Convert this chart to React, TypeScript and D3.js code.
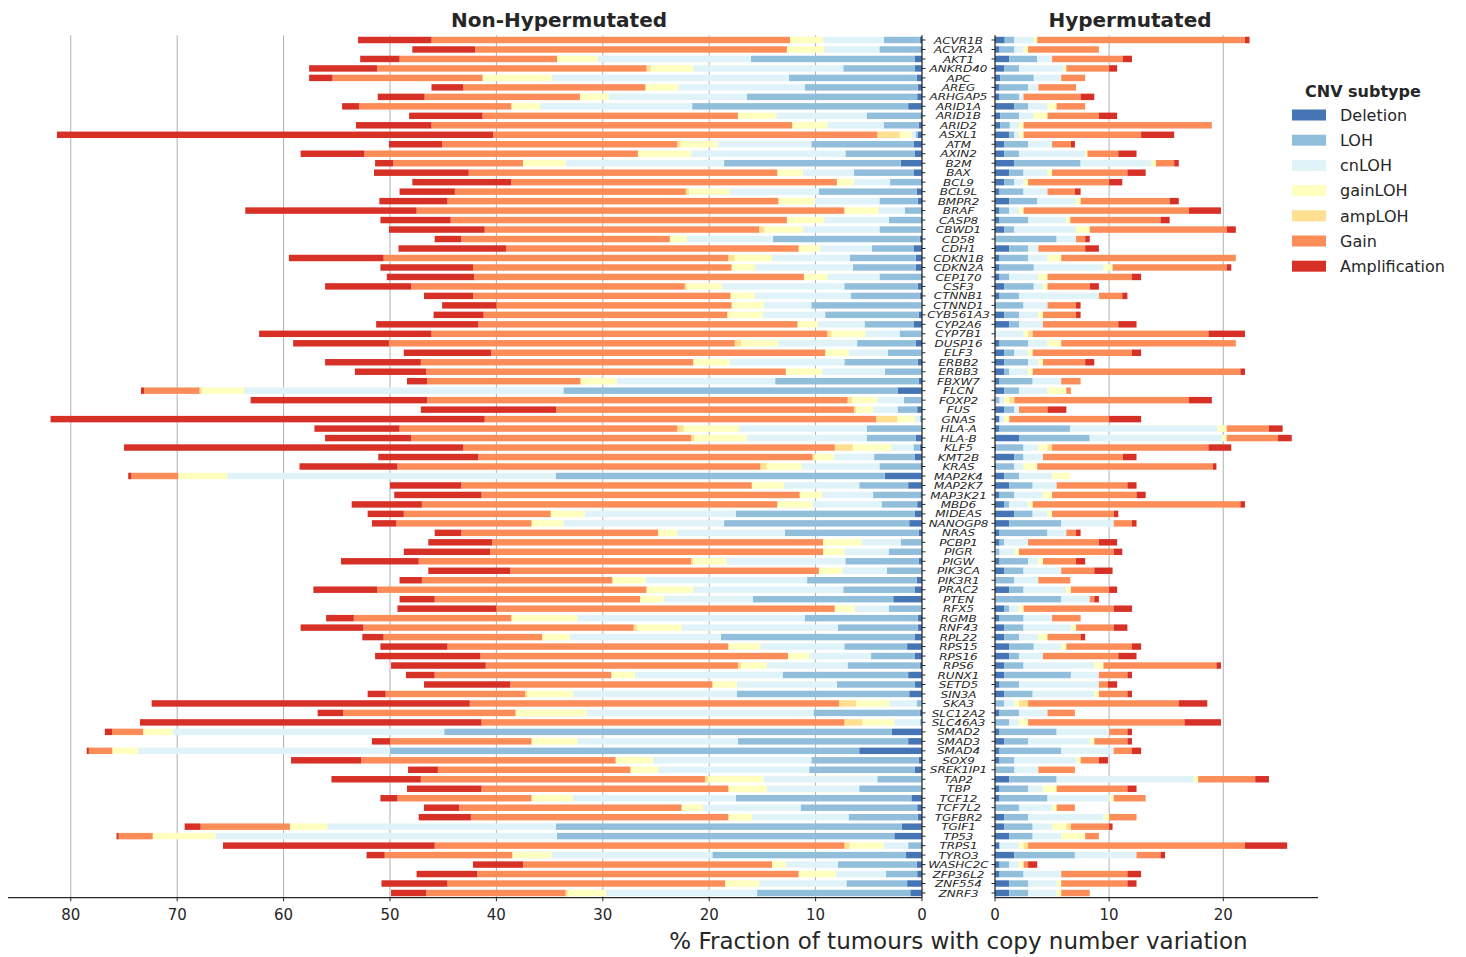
import React from "react";
import * as d3 from "d3";

const genes = ["ACVR1B","ACVR2A","AKT1","ANKRD40","APC","AREG","ARHGAP5","ARID1A","ARID1B","ARID2","ASXL1","ATM","AXIN2","B2M","BAX","BCL9","BCL9L","BMPR2","BRAF","CASP8","CBWD1","CD58","CDH1","CDKN1B","CDKN2A","CEP170","CSF3","CTNNB1","CTNND1","CYB561A3","CYP2A6","CYP7B1","DUSP16","ELF3","ERBB2","ERBB3","FBXW7","FLCN","FOXP2","FUS","GNAS","HLA-A","HLA-B","KLF5","KMT2B","KRAS","MAP2K4","MAP2K7","MAP3K21","MBD6","MIDEAS","NANOGP8","NRAS","PCBP1","PIGR","PIGW","PIK3CA","PIK3R1","PRAC2","PTEN","RFX5","RGMB","RNF43","RPL22","RPS15","RPS16","RPS6","RUNX1","SETD5","SIN3A","SKA3","SLC12A2","SLC46A3","SMAD2","SMAD3","SMAD4","SOX9","SREK1IP1","TAP2","TBP","TCF12","TCF7L2","TGFBR2","TGIF1","TP53","TRPS1","TYRO3","WASHC2C","ZFP36L2","ZNF554","ZNRF3"];

const subtypes = ["Deletion","LOH","cnLOH","gainLOH","ampLOH","Gain","Amplification"];
const colors = ["#4575b4","#91bfdb","#e0f3f8","#ffffbf","#fee090","#fc8d59","#d73027"];

// Non-Hypermutated
const nhDeletion = [0.2,0.15,0.7,0.7,0.5,0.4,0.45,1.3,0.15,0.3,0.4,0.8,0.7,2.0,0.8,0.1,0.5,0.4,0.1,0.1,0.05,0.2,0.8,0.6,0.6,0.1,0.4,0.2,0,0.3,0.8,0,0.6,0,0.4,0.05,0.3,2.3,0,0.45,0,0,0.6,0.2,0.7,0.15,3.5,1.3,0.15,0.45,0.7,1.2,0.3,0,0,0.3,0,0.5,0.7,2.7,0,0.4,0.4,0.7,1.4,0.7,0.2,1.3,0.7,1.2,0,0.2,0,2.85,1.3,5.9,0.3,0.7,0,0,1.0,0.45,0.4,1.9,2.6,0.15,1.5,0.5,0.45,1.4,1.1];
const nhLOH = [3.4,3.85,15.4,6.7,12.0,10.6,16.0,20.3,5.05,3.3,0.2,9.6,6.5,16.6,5.6,2.9,9.2,3.6,1.5,3.0,3.95,13.8,3.9,6.2,5.9,3.9,6.9,6.5,10.4,8.8,4.6,2.1,5.5,3.2,6.9,3.45,13.5,31.4,1.7,1.85,0.2,5.2,4.6,0.6,3.8,3.85,30.9,4.6,4.45,3.35,16.8,17.4,12.6,2.0,3.1,6.9,3.3,10.3,6.7,13.2,3.1,10.6,7.5,18.2,5.9,4.1,6.8,11.8,7.3,16.2,0.5,10.0,0.2,42.05,16.0,44.1,10.1,9.9,4.2,5.9,16.5,10.95,6.5,32.5,31.7,1.15,18.2,7.4,2.95,5.7,14.4];
const nhCnLOH = [5.7,5.2,14.4,14.1,22.3,11.9,13.0,14.3,8.5,5.3,0.4,8.8,14.5,14.9,4.8,3.4,8.4,6.1,2.5,6.1,7.2,8.1,4.9,7.3,9.2,4.9,11.5,9.0,4.5,5.9,4.4,3.2,7.4,3.7,10.8,5.9,14.9,30.0,2.5,2.3,0.5,12.0,11.3,2.1,3.8,7.3,30.9,7.1,4.8,6.5,14.2,15.1,10.1,3.7,4.2,11.2,4.2,15.2,14.1,8.4,3.2,21.4,14.7,14.2,7.9,5.8,7.6,13.9,9.4,15.4,2.6,21.3,2.4,25.5,15.1,23.7,14.9,14.2,10.7,8.7,15.3,9.2,9.1,21.5,32.1,2.3,15.1,4.9,4.7,8.2,14.2];
const nhGainLOH = [3.1,3.5,3.8,4.0,6.5,3.1,2.7,2.7,3.6,3.3,1.1,3.5,5.0,4.0,2.4,1.6,3.8,3.4,3.2,3.5,3.6,1.6,2.0,3.5,2.2,2.2,3.3,2.3,3.0,3.3,1.9,3.2,3.5,2.2,3.4,3.4,3.4,4.0,2.4,1.6,1.6,5.2,4.9,3.6,1.8,3.3,4.6,3.0,2.1,3.3,3.2,3.0,1.8,3.6,2.0,3.1,2.2,3.1,4.4,2.2,1.9,6.2,4.2,2.6,3.0,2.0,2.4,2.2,2.3,4.3,3.1,6.7,3.0,2.8,4.3,2.4,3.5,2.6,5.2,3.6,3.9,2.0,2.2,3.5,5.9,3.2,3.7,1.3,3.5,3.2,3.6];
const nhAmpLOH = [0,0,0,0.4,0,0,0,0,0,0,2.1,0.3,0,0,0,0,0.3,0,0,0,0.5,0,0,0.6,0,0,0.2,0,0,0,0,0.4,0.6,0,0,0,0,0.2,0.4,0.2,2.0,0.6,0.3,1.7,0.2,0.6,0,0,0,0,0,0,0,0,0,0.2,0,0,0,0,0,0,0.3,0,0,0,0.3,0,0,0.2,1.6,0,1.7,0,0,0,0,0,0.3,0,0,0,0,0,0,0.5,0,0,0,0,0.2];
const nhGain = [33.7,29.3,14.8,25.3,14.1,17.1,14.6,14.3,24.0,33.9,36.1,22.1,25.7,12.2,29.0,30.6,21.7,31.1,40.2,31.6,25.8,19.6,27.5,32.4,24.3,31.0,25.7,24.2,22.1,22.9,30.0,37.2,32.5,31.4,25.6,33.8,14.4,5.2,39.5,28.0,36.8,26.1,26.3,34.9,31.4,34.1,4.4,27.3,29.9,33.4,13.8,12.7,18.5,31.1,31.3,25.6,29.0,17.9,25.3,19.3,31.8,14.8,25.4,14.9,26.4,28.9,23.7,16.6,19.0,13.1,34.7,16.2,34.1,2.9,13.3,2.2,23.9,18.1,26.7,23.2,12.6,20.9,24.2,8.4,3.2,38.5,12.0,23.4,30.2,26.1,13.1];
const nhAmplification = [6.9,5.9,3.7,6.4,2.2,3.0,4.4,1.6,6.9,7.1,41.0,5.0,6.0,1.7,8.9,9.3,5.2,6.4,16.1,6.6,9.0,2.5,10.1,8.9,8.7,8.2,8.1,4.6,5.1,4.7,9.6,16.2,9.0,8.2,9.0,6.7,1.9,0.3,16.6,12.7,40.8,8.0,8.1,31.9,9.4,9.2,0.3,6.7,8.2,6.6,3.4,2.3,2.5,6.0,8.1,7.3,7.7,2.1,6.0,3.3,9.3,2.6,5.9,2.0,6.3,9.9,8.9,2.7,8.1,1.7,29.9,2.4,32.1,0.7,1.7,0.2,6.6,2.8,8.4,7.0,1.6,3.3,4.9,1.5,0.2,19.9,1.7,4.7,5.7,6.2,3.3];

// Hypermutated
const hDeletion = [0.85,0.4,1.25,0.8,0.45,0.4,0.4,1.7,0.45,0.45,1.25,0.8,0.8,1.7,1.25,0.8,0.4,1.25,0.4,0.4,0.8,0,1.25,0.4,0.4,0.4,0.8,0.4,0.1,0.8,1.25,0,0.4,0.8,0.8,0.8,0.4,0.8,0,0.8,0.4,0.4,2.1,0.1,1.7,0.1,0.8,1.25,0.4,0.8,1.7,1.25,0.4,0.4,0,0.4,0.8,0,1.25,0,0.8,0.4,0.8,0.8,1.25,1.25,0.8,0.8,0.4,0.8,0,0.4,0,0.4,0.8,0.4,0.4,0,1.25,0.4,0.4,0,0.8,0.8,1.25,0.4,1.7,0.4,0.4,1.25,1.25];
const hLOH = [0.85,1.3,2.45,1.3,2.95,2.5,1.7,1.2,1.65,0.85,0.45,2.1,1.3,5.8,1.25,0.9,2.1,2.45,0.85,2.5,0.9,5.4,1.65,2.5,3.0,0.85,2.6,1.7,2.4,1.3,0.85,0.1,2.5,0.9,2.1,0.45,2.9,1.3,0.4,0.9,0,6.2,6.2,2.4,0.8,1.6,1.3,2.05,1.3,0.45,1.6,4.55,4.2,0.4,0.4,2.5,1.7,1.7,1.25,5.8,0.45,2.1,1.7,1.3,2.15,0.85,1.7,5.85,1.7,2.5,0.8,1.7,1.25,5.0,2.1,5.4,1.3,1.7,4.15,2.5,4.2,2.1,2.1,2.5,2.05,0,5.3,0.85,2.1,1.65,1.65];
const hCnLOH = [1.7,0.8,1.3,3.9,2.4,0.9,0.4,1.7,1.3,0.8,0.4,2.1,5.8,6.2,2.1,0.8,2.1,3.4,0.85,3.35,5.4,1.7,0.9,1.7,6.1,2.55,0.8,7.0,2.1,1.7,2.1,2.4,1.7,1.2,0.9,1.65,2.5,2.5,0.4,0.4,0.4,12.9,11.6,1.3,1.7,0.8,2.9,2.1,2.5,1.65,1.3,4.6,1.65,2.1,1.3,0.9,3.3,2.1,3.75,2.5,0.85,2.5,4.15,1.7,2.4,2.1,6.2,2.45,7.0,5.4,0.9,2.5,0.85,4.6,5.4,4.6,5.4,2.1,12.0,1.3,5.4,2.9,6.6,1.7,2.5,1.7,5.4,0.85,3.3,2.5,2.5];
const hGainLOH = [0.3,0.4,0,0.25,0,0,0,0.8,1.2,0.4,0.4,0,0.2,0.4,0.4,0.4,0,0.4,0.4,0.35,1.2,0,0,1.2,0.8,0.8,0.4,0,0,0.4,0,0.4,1.2,0.4,0.4,0.4,0,1.65,0.45,0,0.45,0.8,0.4,0.8,0,1.2,1.6,0,0.8,0.4,0.4,0,0,0,0.4,0.4,0,0,0.4,0,0.4,0,0.45,0.8,0.45,0,0.8,0,0,0.4,0.4,0,0.8,0,0.4,0,0.4,0,0.4,1.2,0.4,0.4,0.5,1.25,2.1,0.4,0,0.4,0,0.4,0.4];
const hAmpLOH = [0,0,0,0,0,0,0,0,0,0,0,0,0,0,0,0,0,0,0,0,0,0,0,0,0,0,0,0,0,0,0,0.4,0,0,0,0,0,0,0.45,0,0,0,0,0.4,0,0,0,0,0,0,0,0,0,0,0,0,0,0,0,0,0,0,0,0,0,0,0,0,0,0,0.8,0,0,0,0,0,0,0,0,0,0,0,0,0.4,0,0.4,0,0,0,0,0];
const hGain = [18.2,6.2,6.2,3.75,2.1,3.3,5.0,2.5,4.5,16.5,10.3,1.65,2.7,1.6,6.6,7.1,2.4,7.8,14.5,7.9,12.0,0.8,4.1,15.3,10.0,7.4,3.7,2.05,2.5,2.9,6.6,15.4,15.3,8.7,3.7,18.2,1.7,0.4,15.3,2.5,8.75,3.7,4.5,13.7,7.0,15.4,0,6.2,7.4,18.2,5.4,1.6,0.85,6.2,8.3,2.9,2.9,2.8,3.35,0.4,7.9,2.5,3.3,2.9,5.75,6.6,9.9,2.5,0.8,2.5,13.2,2.4,13.7,1.6,2.9,1.6,1.6,3.2,5.0,6.2,2.8,1.6,2.4,3.35,1.2,19.0,2.1,0.4,5.8,5.8,2.5];
const hAmplification = [0.4,0,0.8,0.7,0,0,1.2,0,1.6,0,2.9,0.35,1.6,0.4,1.6,1.15,0.5,0.8,2.8,0.8,0.8,0.4,1.2,0,0.4,0.8,0.8,0.45,0.4,0.4,1.6,3.2,0,0.8,0.8,0.4,0,0,2.0,1.65,2.8,1.2,1.2,2.0,1.2,0.3,0,0.8,0.8,0.4,0.4,0.4,0.4,1.6,0.75,0.8,1.6,0,0.7,0.4,1.6,0,1.2,0.4,0.8,1.6,0.4,0.4,0.8,0.4,2.5,0,3.2,0.4,0.4,0.8,0.8,0,1.2,0.8,0,0,0,0.3,0,3.7,0.4,0.8,1.2,0.8,0];

const leftTicks = [0, 10, 20, 30, 40, 50, 60, 70, 80];
const rightTicks = [0, 10, 20];

const nhSeries = [nhDeletion, nhLOH, nhCnLOH, nhGainLOH, nhAmpLOH, nhGain, nhAmplification];
const hSeries = [hDeletion, hLOH, hCnLOH, hGainLOH, hAmpLOH, hGain, hAmplification];

function buildTable(series: number[][]) {
  return genes.map((g, i) => {
    const row: any = { gene: g };
    subtypes.forEach((s, k) => (row[s] = series[k][i]));
    return row;
  });
}

const FONT = "DejaVu Sans, Verdana, sans-serif";

export default function App() {
  const W = 1466, H = 957;
  const top = 35.26, bottom = 897.74;
  const y = d3.scaleBand<string>().domain(genes).range([top, bottom]).paddingInner(0.32).paddingOuter(0.16);
  const xL = d3.scaleLinear().domain([0, 85.9]).range([922, 8]);
  const xR = d3.scaleLinear().domain([0, 28.3]).range([995, 1318]);
  const stack = d3.stack<any>().keys(subtypes);
  const nhStack = stack(buildTable(nhSeries));
  const hStack = stack(buildTable(hSeries));
  const labelX = 958.5;

  const panel = (st: any[], x: d3.ScaleLinear<number, number>, ticks: number[], side: "L" | "R") => {
    const x0 = x(0);
    const xEnd = x.range()[1];
    return (
      <g>
        {ticks.filter(t => t !== 0).map(t => (
          <line key={"g" + t} x1={x(t)} x2={x(t)} y1={top} y2={bottom} stroke="#b0b0b0" strokeWidth={1} />
        ))}
        {st.map((layer: any, k: number) => (
          <g key={layer.key} fill={colors[k]}>
            {layer.map((d: any, i: number) => {
              const a = x(d[0]), b = x(d[1]);
              const w = Math.abs(b - a);
              if (w <= 0) return null;
              return <rect key={i} x={Math.min(a, b)} y={y(genes[i])} width={w} height={y.bandwidth()} />;
            })}
          </g>
        ))}
        <line x1={x0} x2={x0} y1={top} y2={bottom} stroke="#262626" strokeWidth={1.25} />
        <line x1={Math.min(x0, xEnd)} x2={Math.max(x0, xEnd)} y1={bottom} y2={bottom} stroke="#262626" strokeWidth={1.25} />
        {genes.map(g => {
          const cy = (y(g) as number) + y.bandwidth() / 2;
          return side === "L"
            ? <line key={g} x1={x0} x2={x0 + 3.5} y1={cy} y2={cy} stroke="#262626" strokeWidth={1} />
            : <line key={g} x1={x0} x2={x0 - 3.5} y1={cy} y2={cy} stroke="#262626" strokeWidth={1} />;
        })}
        {ticks.map(t => (
          <g key={"t" + t}>
            <line x1={x(t)} x2={x(t)} y1={bottom} y2={bottom + 3.5} stroke="#262626" strokeWidth={1} />
            <text x={x(t)} y={bottom + 22} textAnchor="middle" fontSize={15} fontFamily={FONT} fill="#262626">{t}</text>
          </g>
        ))}
      </g>
    );
  };

  return (
    <svg width={W} height={H} style={{ position: "absolute", left: 0, top: 0, background: "#fff" }}>
      <rect x={0} y={0} width={W} height={H} fill="#fff" />
      {panel(nhStack, xL, leftTicks, "L")}
      {panel(hStack, xR, rightTicks, "R")}
      {genes.map(g => (
        <text key={g} transform={`translate(${labelX}, ${(y(g) as number) + y.bandwidth() / 2 + 3.6}) scale(1, 0.78)`} textAnchor="middle" fontSize={12} fontStyle="italic" fontFamily={FONT} fill="#262626">{g}</text>
      ))}
      <text x={559} y={27} textAnchor="middle" fontSize={20} fontWeight="bold" fontFamily={FONT} fill="#262626">Non-Hypermutated</text>
      <text x={1130} y={27} textAnchor="middle" fontSize={20} fontWeight="bold" fontFamily={FONT} fill="#262626">Hypermutated</text>
      <text x={labelX} y={949} textAnchor="middle" fontSize={23} fontFamily={FONT} fill="#262626">% Fraction of tumours with copy number variation</text>
      <g>
        <text x={1305} y={97} fontSize={16} fontWeight="bold" fontFamily={FONT} fill="#262626">CNV subtype</text>
        {subtypes.map((s, k) => (
          <g key={s} transform={`translate(0, ${115 + k * 25.2})`}>
            <rect x={1292} y={-5.5} width={34} height={11} fill={colors[k]} />
            <text x={1340} y={5.8} fontSize={16} fontFamily={FONT} fill="#262626">{s}</text>
          </g>
        ))}
      </g>
    </svg>
  );
}
